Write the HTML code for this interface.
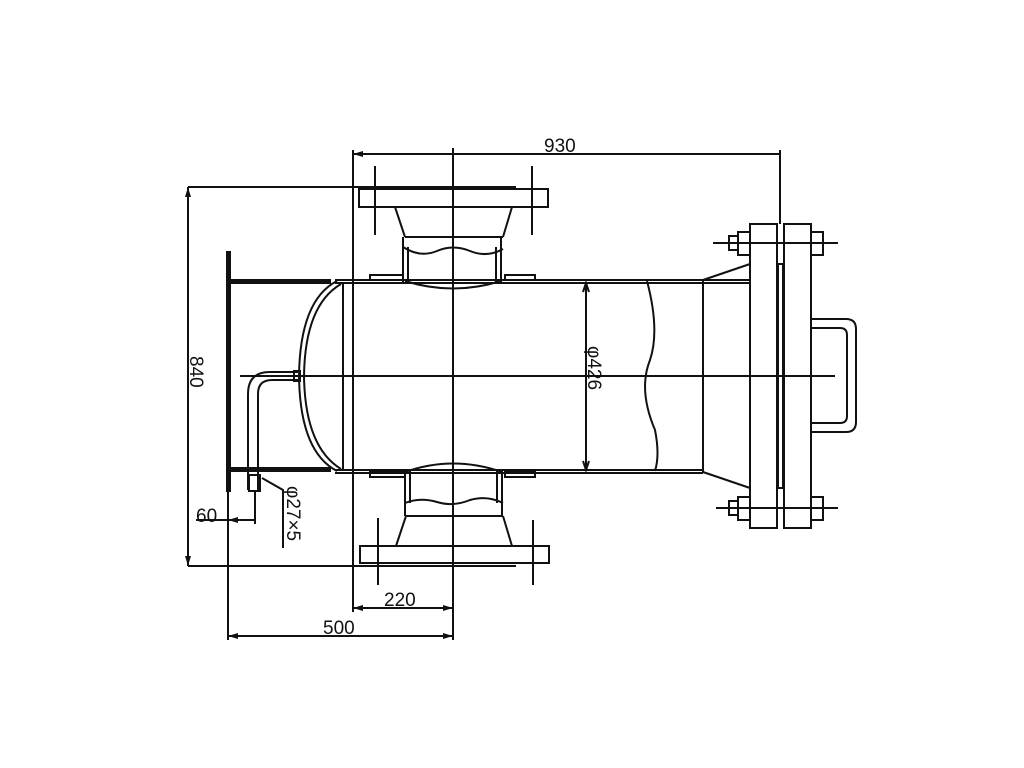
<!DOCTYPE html>
<html><head><style>body{margin:0;background:#fff}svg{display:block}text{font-family:"Liberation Sans",sans-serif;font-size:19px;fill:#111}</style></head><body>
<svg width="1024" height="768" viewBox="0 0 1024 768" xmlns="http://www.w3.org/2000/svg">
<g stroke="#111" stroke-width="2" fill="none">
<line x1="353" y1="154" x2="781" y2="154"/>
<line x1="353" y1="150" x2="353" y2="612"/>
<line x1="780" y1="150" x2="780" y2="224"/>
<line x1="453" y1="148" x2="453" y2="640"/>
<line x1="188" y1="187" x2="516" y2="187"/>
<line x1="188" y1="566" x2="516" y2="566"/>
<line x1="188" y1="187" x2="188" y2="566"/>
<rect x="359" y="189" width="189" height="18"/>
<line x1="375" y1="166" x2="375" y2="235"/>
<line x1="532" y1="166" x2="532" y2="235"/>
<path d="M395 207 L405 237 M512 207 L503 237"/>
<line x1="405" y1="237" x2="503" y2="237"/>
<path d="M403 247 Q420 258 437 251 Q453 244 470 251 Q487 258 503 249"/>
<path d="M403 237 V283 M408 247 V283 M501 237 V283 M496 247 V283"/>
<path d="M405 281 Q453 296 501 281"/>
<rect x="370" y="275" width="33" height="5"/>
<rect x="505" y="275" width="30" height="5"/>
<rect x="360" y="546" width="189" height="17"/>
<line x1="378" y1="518" x2="378" y2="585"/>
<line x1="533" y1="520" x2="533" y2="585"/>
<path d="M396 546 L406 516 M512 546 L503 516"/>
<line x1="406" y1="516" x2="503" y2="516"/>
<path d="M405 503 Q420 497 437 502 Q453 507 470 500 Q487 495 503 503"/>
<path d="M405 470 V516 M410 470 V503 M502 470 V516 M497 470 V503"/>
<path d="M405 472 Q453 455 502 472"/>
<rect x="370" y="472" width="35" height="5"/>
<rect x="505" y="472" width="30" height="5"/>
<line x1="335" y1="283" x2="750" y2="283"/>
<line x1="335" y1="280" x2="750" y2="280"/>
<line x1="335" y1="470" x2="703" y2="470"/>
<line x1="335" y1="473" x2="703" y2="473"/>
<path d="M337 281 Q300 300 299 376 Q300 452 337 471"/>
<path d="M341 284 Q305 305 304 376 Q305 447 341 469"/>
<line x1="343" y1="283" x2="343" y2="470"/>
<path d="M647 281 Q660 330 650 360 Q638 390 655 430 Q660 455 655 471"/>
<line x1="703" y1="280" x2="703" y2="473"/>
<path d="M703 280 L750 264 M703 472 L750 488"/>
<line x1="240" y1="376" x2="835" y2="376"/>
<line x1="586" y1="283" x2="586" y2="470"/>
<path d="M583 292 L586 283 L589 292 M583 461 L586 470 L589 461"/>
<rect x="750" y="224" width="27" height="304"/>
<rect x="784" y="224" width="27" height="304"/>
<rect x="778" y="264" width="5" height="224"/>
<line x1="713" y1="243" x2="838" y2="243"/>
<line x1="716" y1="508" x2="838" y2="508"/>
<rect x="738" y="232" width="12" height="23"/>
<rect x="811" y="232" width="12" height="23"/>
<rect x="738" y="497" width="12" height="23"/>
<rect x="811" y="497" width="12" height="23"/>
<rect x="729" y="236" width="9" height="14"/>
<rect x="729" y="501" width="9" height="14"/>
<path d="M811 319 H846 Q856 319 856 329 V422 Q856 432 846 432 H811"/>
<path d="M811 328 H840 Q847 328 847 335 V416 Q847 423 840 423 H811"/>
<path d="M298 372 H270 Q248 372 248 394 V490"/>
<path d="M298 380 H272 Q258 380 258 394 V490"/>
<rect x="294" y="371" width="6" height="10"/>
<rect x="249" y="475" width="11" height="16"/>
<path d="M262 478 L283 490 V548"/>
<line x1="196" y1="520" x2="255" y2="520"/>
<line x1="255" y1="490" x2="255" y2="524"/>
<line x1="228" y1="470" x2="228" y2="640"/>
<line x1="353" y1="608" x2="453" y2="608"/>
<line x1="228" y1="636" x2="453" y2="636"/>
</g>
<g fill="#111">
<rect x="226" y="251" width="5" height="241"/>
<rect x="231" y="279" width="100" height="5"/>
<rect x="231" y="467" width="100" height="5"/>
<path d="M188 187 l-3 10 h6z M188 566 l-3 -10 h6z M353 154 l10 -3 v6z M353 608 l10 -3 v6z M453 608 l-10 -3 v6z M228 636 l10 -3 v6z M453 636 l-10 -3 v6z M228 520 l10 -3 v6z"/>
</g>
<text x="544" y="152">930</text>
<text x="196" y="522" font-size="17">60</text>
<text x="384" y="606">220</text>
<text x="323" y="634">500</text>
<text transform="translate(190,356) rotate(90)">840</text>
<text transform="translate(588,346) rotate(90)">φ426</text>
<text transform="translate(287,486) rotate(90)" font-size="17">φ27×5</text>
</svg>
</body></html>
